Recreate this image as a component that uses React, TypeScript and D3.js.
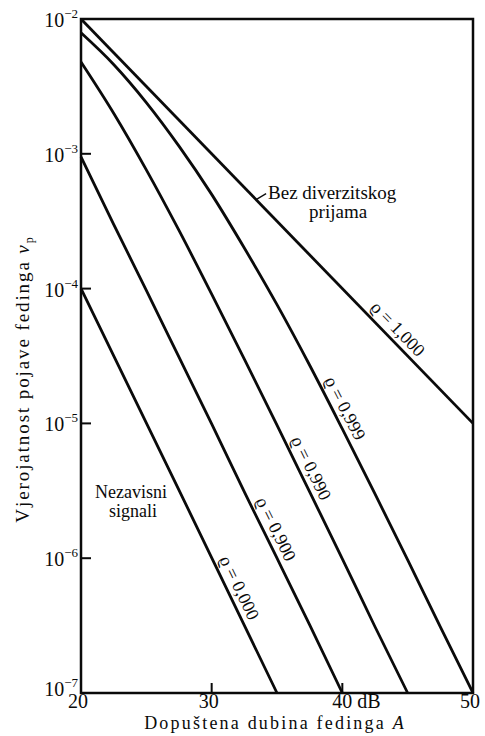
import { useEffect, useRef } from 'react';
import * as d3 from 'd3';

const WIDTH = 485;
const HEIGHT = 736;

// dopustena dubina fedinga A [dB] -> vjerojatnost v_p
const rho1000: [number, number][] = [[20, 1e-2], [50, 1e-5]];
const rho0999: [number, number][] = [
  [20, 7.9e-3], [22.5, 4.6e-3], [25, 2.4e-3], [27.5, 1.14e-3], [30, 5.0e-4],
  [32.5, 2.0e-4], [35, 7.6e-5], [37.5, 2.7e-5], [40, 9.1e-6], [42.5, 3.0e-6],
  [45, 9.7e-7], [47.5, 3.1e-7], [50, 1.0e-7]
];
const rho0990: [number, number][] = [
  [20, 4.8e-3], [22.5, 2.0e-3], [25, 7.6e-4], [27.5, 2.7e-4], [30, 9.1e-5],
  [32.5, 3.0e-5], [35, 9.7e-6], [37.5, 3.1e-6], [40, 9.9e-7], [42.5, 3.1e-7],
  [45, 1.0e-7]
];
const rho0900: [number, number][] = [
  [20, 9.5e-4], [22.5, 3.0e-4], [25, 9.7e-5], [27.5, 3.1e-5], [30, 9.9e-6],
  [32.5, 3.1e-6], [35, 1.0e-6], [37.5, 3.2e-7], [40, 1.0e-7]
];
const rho0000: [number, number][] = [[20, 1e-4], [27.5, 3.2e-6], [35, 1e-7]];

const curves = [
  { label: 'ϱ = 1,000', data: rho1000 },
  { label: 'ϱ = 0,999', data: rho0999 },
  { label: 'ϱ = 0,990', data: rho0990 },
  { label: 'ϱ = 0,900', data: rho0900 },
  { label: 'ϱ = 0,000', data: rho0000 }
];
// where along each curve (in dB) its label sits
const labelAt = [43.6, 39.4, 36.8, 34.1, 31.3];

const xTicks = [20, 30, 40, 50];
const xTickLabels = ['20', '30', '40 dB', '50'];
const yExponents = [-2, -3, -4, -5, -6, -7];

const FONT = '"Liberation Serif", "DejaVu Serif", serif';
const INK = '#0a0a0a';

const App = () => {
  const svgRef = useRef<SVGSVGElement>(null);

  useEffect(() => {
    if (!svgRef.current) return;
    const svg = d3.select(svgRef.current);
    svg.selectAll('*').remove();

    const x = d3.scaleLinear().domain([20, 50]).range([81, 473]);
    const y = d3.scaleLog().domain([1e-2, 1e-7]).range([19, 693]);

    const g = svg.append('g').attr('font-family', FONT).attr('fill', INK);

    // curves
    const line = d3.line<[number, number]>()
      .x(d => x(d[0]))
      .y(d => y(d[1]))
      .curve(d3.curveMonotoneX);

    g.selectAll('path.curve')
      .data(curves)
      .enter()
      .append('path')
      .attr('class', 'curve')
      .attr('d', d => line(d.data))
      .attr('fill', 'none')
      .attr('stroke', INK)
      .attr('stroke-width', 2.8);

    // curve labels, rotated along the curve
    curves.forEach((c, i) => {
      const a = labelAt[i];
      const k = Math.max(1, c.data.findIndex(d => d[0] >= a));
      const [a0, p0] = c.data[k - 1];
      const [a1, p1] = c.data[k];
      const t = (a - a0) / (a1 - a0);
      const p = Math.pow(10, Math.log10(p0) + t * (Math.log10(p1) - Math.log10(p0)));
      const ang = Math.atan2(y(p1) - y(p0), x(a1) - x(a0)) * 180 / Math.PI;
      g.append('text')
        .attr('transform', `translate(${x(a)},${y(p)}) rotate(${ang})`)
        .attr('y', -6)
        .attr('text-anchor', 'middle')
        .attr('font-size', 18)
        .text(c.label);
    });

    // frame
    g.append('rect')
      .attr('x', x(20))
      .attr('y', y(1e-2))
      .attr('width', x(50) - x(20))
      .attr('height', y(1e-7) - y(1e-2))
      .attr('fill', 'none')
      .attr('stroke', INK)
      .attr('stroke-width', 2.5);

    // y ticks (inward) + labels
    yExponents.forEach((e, i) => {
      const yy = y(Math.pow(10, e));
      g.append('line')
        .attr('x1', x(20)).attr('x2', x(20) + 10)
        .attr('y1', yy).attr('y2', yy)
        .attr('stroke', INK).attr('stroke-width', 2);
      const t = g.append('text')
        .attr('x', 78)
        .attr('y', yy + (i === yExponents.length - 1 ? 3 : 8))
        .attr('text-anchor', 'end')
        .attr('font-size', 20);
      t.append('tspan').text('10');
      t.append('tspan').attr('dy', -9).attr('font-size', 13).text('−' + Math.abs(e));
    });

    // x ticks (inward) + labels
    xTicks.forEach((v, i) => {
      if (v > 20 && v < 50) {
        g.append('line')
          .attr('x1', x(v)).attr('x2', x(v))
          .attr('y1', y(1e-7)).attr('y2', y(1e-7) - 10)
          .attr('stroke', INK).attr('stroke-width', 2);
      }
      const lab = xTickLabels[i];
      g.append('text')
        .attr('x', lab.length > 2 ? x(v) - 10 : x(v) - 3)
        .attr('y', 708)
        .attr('text-anchor', lab.length > 2 ? 'start' : 'middle')
        .attr('font-size', 20)
        .text(lab);
    });

    // axis titles
    const xt = g.append('text')
      .attr('x', 275)
      .attr('y', 729)
      .attr('text-anchor', 'middle')
      .attr('font-size', 18)
      .attr('letter-spacing', 2.2);
    xt.append('tspan').text('Dopuštena dubina fedinga ');
    xt.append('tspan').attr('font-style', 'italic').text('A');

    const yt = g.append('text')
      .attr('transform', 'translate(29,379) rotate(-90)')
      .attr('text-anchor', 'middle')
      .attr('font-size', 19)
      .attr('letter-spacing', 1.9);
    yt.append('tspan').text('Vjerojatnost pojave fedinga ');
    yt.append('tspan').attr('font-style', 'italic').text('v');
    yt.append('tspan').attr('font-size', 12).attr('dy', 4).text('p');

    // annotations
    const la = 33.4;
    const lp = Math.pow(10, -la / 10);
    g.append('line')
      .attr('x1', x(la)).attr('y1', y(lp))
      .attr('x2', x(la) + 10).attr('y2', y(lp) - 6)
      .attr('stroke', INK).attr('stroke-width', 1.3);
    g.append('text')
      .attr('x', x(la) + 12).attr('y', y(lp) - 1)
      .attr('font-size', 19)
      .text('Bez diverzitskog');
    g.append('text')
      .attr('x', x(la) + 82).attr('y', y(lp) + 18)
      .attr('text-anchor', 'middle')
      .attr('font-size', 19)
      .text('prijama');

    g.append('text')
      .attr('x', 131).attr('y', 498)
      .attr('text-anchor', 'middle')
      .attr('font-size', 18)
      .text('Nezavisni');
    g.append('text')
      .attr('x', 133).attr('y', 517)
      .attr('text-anchor', 'middle')
      .attr('font-size', 18)
      .text('signali');
  }, []);

  return (
    <svg
      ref={svgRef}
      width={WIDTH}
      height={HEIGHT}
      style={{ position: 'absolute', left: 0, top: 0, background: '#fff' }}
    />
  );
};

export default App;
